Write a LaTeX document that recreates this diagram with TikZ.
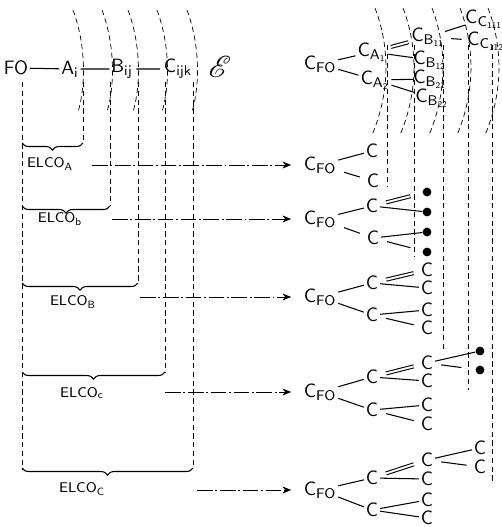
\documentclass[tikz,border=0pt]{standalone}
\usepackage{amsmath,amssymb}
\usepackage{mathrsfs}
\usetikzlibrary{arrows.meta,decorations.pathreplacing}

\begin{document}
\begin{tikzpicture}[
    x=0.02cm, y=-0.02cm,
    every node/.style={inner sep=1pt},
    atom/.style={font=\sffamily\fontsize{11}{13}\selectfont},
    elco/.style={font=\footnotesize},
    dot/.style={circle,fill,inner sep=0pt,minimum size=5pt},
    guide/.style={line width=0.4pt,dash pattern=on 3pt off 2pt},
    feed/.style={line width=0.4pt,dash pattern=on 9pt off 1.5pt on 1pt off 1.5pt,
        -{Stealth[length=5pt,width=4pt]},shorten >=6pt},
    bond/.style={line width=0.6pt,shorten <=3.5pt,shorten >=3pt},
    dbond/.style={bond,double,double distance=1.1pt},
    ubrace/.style={line width=0.6pt,decorate,decoration={brace,mirror,amplitude=4pt}}
]
    \useasboundingbox (0,0) rectangle (502,527);

    \foreach \x in {73,102,128,157,187}
        \draw[guide] (\x,10) .. controls ({\x+13},45) and ({\x+13},85) .. ({\x+5},112);
    \foreach \x/\y in {22/470,83/143,110/206,138/283,165/372,193/468}
        \draw[guide] (\x,82) -- (\x,\y);
    \foreach \x in {375,403,432,460,488}
        \draw[guide] (\x,8) .. controls ({\x+16},50) and ({\x+14},95) .. ({\x-3},135);
    \foreach \x/\y in {387/187,414/257,443/352,468/390,492/483}
        \draw[guide] (\x,45) -- (\x,\y);

    \node[atom] (fo) at (16,68) {FO};
    \node[atom] (ai) at (70,69) {$\mathsf{A_i}$};
    \node[atom] (bij) at (122,69) {$\mathsf{B_{ij}}$};
    \node[atom] (cijk) at (178,69) {$\mathsf{C_{ijk}}$};
    \node (escr) at (220,67) {\LARGE$\mathscr{E}$};
    \draw[bond,shorten <=1pt,shorten >=1pt] (fo) -- (ai) (ai) -- (bij) (bij) -- (cijk);

    \draw[ubrace] (22,143) -- (83,143);
    \draw[ubrace] (22,206) -- (110,206);
    \draw[ubrace] (22,283) -- (138,283);
    \draw[ubrace] (22,372) -- (165,372);
    \draw[ubrace] (22,468) -- (193,468);

    \node[elco] (elA) at (50,164) {$\mathsf{ELCO_A}$};
    \node[elco] (elb) at (60,219) {$\mathsf{ELCO_b}$};
    \node[elco] (elB) at (73,302) {$\mathsf{ELCO_B}$};
    \node[elco] (elc) at (82,393) {$\mathsf{ELCO_c}$};
    \node[elco] (elC) at (82,489) {$\mathsf{ELCO_C}$};

    \coordinate (sA) at (92,165);
    \coordinate (sb) at (112,219);
    \coordinate (sB) at (140,297);
    \coordinate (sc) at (165,392);
    \coordinate (sC) at (197,490);

    \node[atom] (cfo) at (320,64) {$\mathsf{C_{FO}}$};
    \node[atom] (ca1) at (372,52) {$\mathsf{C_{A_1}}$};
    \node[atom] (ca2) at (375,80) {$\mathsf{C_{A_2}}$};
    \node[atom,inner sep=0pt] (cb11) at (428,37) {$\mathsf{C_{B_{11}}}$};
    \node[atom,inner sep=0pt] (cb12) at (430,60) {$\mathsf{C_{B_{12}}}$};
    \node[atom,inner sep=0pt] (cb21) at (430,79) {$\mathsf{C_{B_{21}}}$};
    \node[atom,inner sep=0pt] (cb22) at (432,98) {$\mathsf{C_{B_{22}}}$};
    \node[atom,inner sep=0pt] (cc111) at (484,19) {$\mathsf{C_{C_{111}}}$};
    \node[atom,inner sep=0pt] (cc112) at (486,41) {$\mathsf{C_{C_{112}}}$};
    \draw[bond] (cfo) -- (ca1) (cfo) -- (ca2)
        (ca1) -- (cb12) (ca2) -- (cb21) (ca2) -- (cb22)
        (cb11) -- (cc111) (cb11) -- (cc112);
    \draw[dbond,shorten <=1.5pt,shorten >=1.5pt] (ca1) -- (cb11);

    \node[atom] (fA) at (320,165) {$\mathsf{C_{FO}}$};
    \node[atom] (a1) at (372,151) {C};
    \node[atom] (a2) at (373,181) {C};
    \draw[bond] (fA) -- (a1) (fA) -- (a2);

    \node[atom] (fb) at (320,219) {$\mathsf{C_{FO}}$};
    \node[atom] (b1) at (372,206) {C};
    \node[atom] (b2) at (373,238) {C};
    \node[dot] (bd1) at (427,192) {};
    \node[dot] (bd2) at (427,212) {};
    \node[dot] (bd3) at (427,232) {};
    \node[dot] (bd4) at (427,252) {};
    \draw[bond] (fb) -- (b1) (fb) -- (b2);
    \draw[dbond,shorten >=7pt] (b1) -- (bd1);
    \draw[bond,shorten >=7pt] (b1) -- (bd2) (b2) -- (bd3) (b2) -- (bd4);

    \node[atom] (fB) at (320,297) {$\mathsf{C_{FO}}$};
    \node[atom] (B1) at (372,283) {C};
    \node[atom] (B2) at (372,315) {C};
    \node[atom] (B11) at (427,270) {C};
    \node[atom] (B12) at (427,288) {C};
    \node[atom] (B21) at (427,310) {C};
    \node[atom] (B22) at (427,328) {C};
    \draw[bond] (fB) -- (B1) (fB) -- (B2)
        (B1) -- (B12) (B2) -- (B21) (B2) -- (B22);
    \draw[dbond] (B1) -- (B11);

    \node[atom] (fc) at (320,392) {$\mathsf{C_{FO}}$};
    \node[atom] (c1) at (372,377) {C};
    \node[atom] (c2) at (372,410) {C};
    \node[atom] (c11) at (427,363) {C};
    \node[atom] (c12) at (427,381) {C};
    \node[atom] (c21) at (427,405) {C};
    \node[atom] (c22) at (427,424) {C};
    \node[dot] (cd1) at (480,351) {};
    \node[dot] (cd2) at (480,370) {};
    \draw[bond] (fc) -- (c1) (fc) -- (c2)
        (c1) -- (c12) (c2) -- (c21) (c2) -- (c22);
    \draw[dbond] (c1) -- (c11);
    \draw[bond,shorten >=8pt] (c11) -- (cd1) (c11) -- (cd2);

    \node[atom] (fC) at (320,490) {$\mathsf{C_{FO}}$};
    \node[atom] (C1) at (372,478) {C};
    \node[atom] (C2) at (372,510) {C};
    \node[atom] (C11) at (427,460) {C};
    \node[atom] (C12) at (427,479) {C};
    \node[atom] (C21) at (427,500) {C};
    \node[atom] (C22) at (427,518) {C};
    \node[atom] (C111) at (480,448) {C};
    \node[atom] (C112) at (480,467) {C};
    \draw[bond] (fC) -- (C1) (fC) -- (C2)
        (C1) -- (C12) (C2) -- (C21) (C2) -- (C22)
        (C11) -- (C111) (C11) -- (C112);
    \draw[dbond] (C1) -- (C11);

    \draw[feed] (sA) -- (fA);
    \draw[feed] (sb) -- (fb);
    \draw[feed] (sB) -- (fB);
    \draw[feed] (sc) -- (fc);
    \draw[feed] (sC) -- (fC);
\end{tikzpicture}
\end{document}
